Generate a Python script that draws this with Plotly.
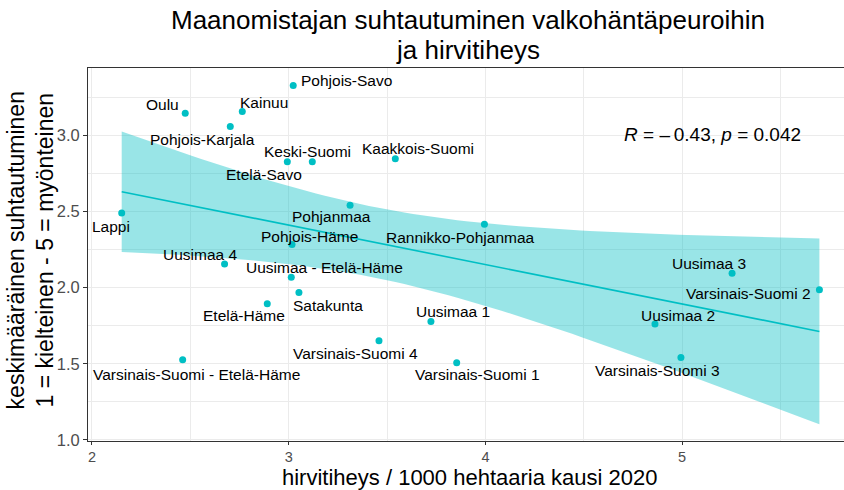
import numpy as np
import plotly.graph_objects as go

# ---- data ----
regions = ["Pohjois-Savo", "Oulu", "Kainuu", "Pohjois-Karjala", "Keski-Suomi", "Etelä-Savo",
           "Kaakkois-Suomi", "Lappi", "Pohjanmaa", "Pohjois-Häme", "Rannikko-Pohjanmaa",
           "Uusimaa 4", "Uusimaa - Etelä-Häme", "Satakunta", "Etelä-Häme",
           "Varsinais-Suomi - Etelä-Häme", "Varsinais-Suomi 4", "Uusimaa 1", "Varsinais-Suomi 1",
           "Uusimaa 3", "Varsinais-Suomi 2", "Uusimaa 2", "Varsinais-Suomi 3"]
hirvitiheys = [3.023, 2.474, 2.764, 2.703, 3.120, 2.993, 3.542, 2.151, 3.312, 3.017, 3.995,
               2.674, 3.013, 3.052, 2.891, 2.461, 3.459, 3.723, 3.854, 5.254, 5.698, 4.862, 4.994]
suhtautuminen = [3.328, 3.146, 3.157, 3.059, 2.827, 2.827, 2.847, 2.490, 2.541, 2.283, 2.416,
                 2.156, 2.069, 1.968, 1.894, 1.527, 1.651, 1.778, 1.507, 2.095, 1.986, 1.761, 1.542]
x_ticks = [2, 3, 4, 5]
y_ticks = [1.0, 1.5, 2.0, 2.5, 3.0]
y_tick_labels = ["1.0", "1.5", "2.0", "2.5", "3.0"]
stat_text = "<i>R</i> = \u2013\u20090.43, <i>p</i> = 0.042"
title_lines = ["Maanomistajan suhtautuminen valkohäntäpeuroihin", "ja hirvitiheys"]
x_title = "hirvitiheys / 1000 hehtaaria kausi 2020"
y_title = "keskimääräinen suhtautuminen<br>1 = kielteinen - 5 = myönteinen"

# label offsets (screen px, like ggrepel placement)
label_dx = [53, -23, 22, -28, -5, -23, 23, -11, -19, 17, -23.5, -25, 33, 29, -23.5, 14, -23, 22, 21, -23, -71, 22.7, -23]
label_dy = [-5, -9, -9, 13, -10, 13, -10, 13, 11, -8, 13, -9, -10, 13, 12, 15, 13, -10, 12, -10, 4, -9, 13]

TEAL = "#00BFC4"
FONT = "Liberation Sans, Arial, sans-serif"

x = np.array(hirvitiheys)
y = np.array(suhtautuminen)
n = len(x)
b, a = np.polyfit(x, y, 1)
xs = np.linspace(x.min(), x.max(), 80)
ys = a + b * xs
resid = y - (a + b * x)
s = np.sqrt(np.sum(resid ** 2) / (n - 2))
sxx = np.sum((x - x.mean()) ** 2)
tval = 2.0796
se = s * np.sqrt(1.0 / n + (xs - x.mean()) ** 2 / sxx)
upper = ys + tval * se
lower = ys - tval * se

fig = go.Figure()
fig.add_trace(go.Scatter(
    x=np.concatenate([xs, xs[::-1]]), y=np.concatenate([upper, lower[::-1]]),
    fill="toself", fillcolor="rgba(0,191,196,0.4)", line=dict(width=0),
    mode="lines", hoverinfo="skip", showlegend=False))
fig.add_trace(go.Scatter(x=xs, y=ys, mode="lines", line=dict(color=TEAL, width=1.6), showlegend=False))
fig.add_trace(go.Scatter(x=hirvitiheys, y=suhtautuminen, mode="markers",
                         marker=dict(color=TEAL, size=7), showlegend=False))

annotations = []
for name, xv, yv, dx, dy in zip(regions, hirvitiheys, suhtautuminen, label_dx, label_dy):
    annotations.append(dict(x=xv, y=yv, xref="x", yref="y", text=name, showarrow=False,
                            xshift=dx, yshift=-dy, xanchor="center", yanchor="middle",
                            font=dict(family=FONT, size=15.5, color="black")))
annotations.append(dict(x=5.155, y=3.007, xref="x", yref="y", text=stat_text, showarrow=False,
                        xanchor="center", yanchor="middle", font=dict(family=FONT, size=19, color="black")))
annotations.append(dict(x=0.504, y=(441 - 478) / 373.5, xref="paper", yref="paper", text=x_title,
                        showarrow=False, xanchor="center", yanchor="middle",
                        font=dict(family=FONT, size=22, color="black")))
annotations.append(dict(x=-0.0754, y=0.511, xref="paper", yref="paper", textangle=-90,
                        text=y_title, showarrow=False, xanchor="center", yanchor="middle",
                        font=dict(family=FONT, size=23, color="black")))
for line, py in zip(title_lines, [19, 49]):
    annotations.append(dict(x=0.502, y=(441 - py) / 373.5, xref="paper", yref="paper", text=line,
                            showarrow=False, xanchor="center", yanchor="middle",
                            font=dict(family=FONT, size=26, color="black")))

fig.update_layout(
    width=844, height=490,
    margin=dict(l=88, r=0, t=68, b=49),
    paper_bgcolor="white", plot_bgcolor="white",
    font=dict(family=FONT),
    annotations=annotations,
    xaxis=dict(range=[1.9797, 5.823], tickvals=x_ticks, ticktext=[str(t) for t in x_ticks],
               showgrid=True, gridcolor="#EBEBEB", gridwidth=1,
               minor=dict(dtick=0.5, tick0=2, showgrid=True, gridcolor="#EBEBEB", gridwidth=0.5),
               showline=True, linecolor="#333333", linewidth=1, mirror=True,
               ticks="outside", ticklen=3, tickcolor="#333333",
               tickfont=dict(family=FONT, size=14.5, color="#4D4D4D"), zeroline=False),
    yaxis=dict(range=[0.9934, 3.4426], tickvals=y_ticks, ticktext=y_tick_labels,
               showgrid=True, gridcolor="#EBEBEB", gridwidth=1,
               minor=dict(dtick=0.25, tick0=1, showgrid=True, gridcolor="#EBEBEB", gridwidth=0.5),
               showline=True, linecolor="#333333", linewidth=1, mirror=False,
               ticks="outside", ticklen=4, tickcolor="#333333",
               tickfont=dict(family=FONT, size=16.5, color="#4D4D4D"), zeroline=False),
)
fig.write_html("out.html", config={"displayModeBar": False},
               post_script="document.body.style.margin='0';document.body.style.overflow='hidden';")
